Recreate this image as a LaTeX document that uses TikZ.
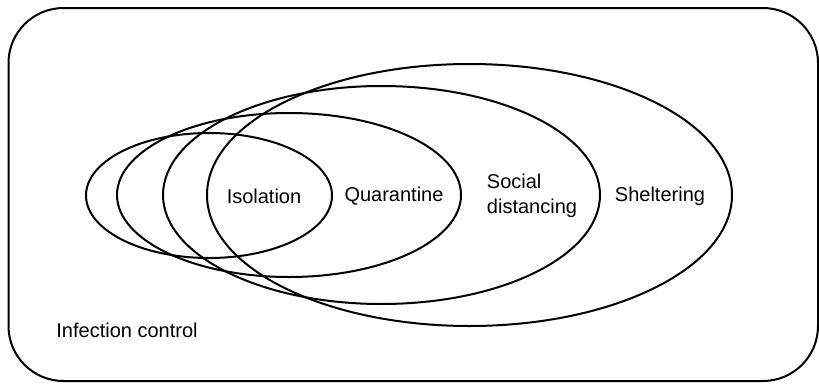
\documentclass[tikz,border=0pt]{standalone}
\usepackage{fontspec}
\setmainfont{Liberation Sans}
\begin{document}
\begin{tikzpicture}[x=1pt,y=-1pt,
  ring/.style={draw=black,line width=2pt},
  lbl/.style={font=\fontsize{20}{25}\selectfont,inner sep=0pt}]
\useasboundingbox (0,0) rectangle (819,383);
% outer frame
\draw[ring,rounded corners=55pt] (8.5,8) rectangle (818,381);
% nested ellipses
\draw[ring] (209,195.5) ellipse [x radius=123,y radius=62.5];
\draw[ring] (289,195) ellipse [x radius=172,y radius=82];
\draw[ring] (381.5,195) ellipse [x radius=218.5,y radius=109];
\draw[ring] (469.5,195) ellipse [x radius=262.5,y radius=131];
% labels
\node[lbl] (iso) at (264,196) {Isolation};
\node[lbl] (qua) at (394,196) {Quarantine};
\node[lbl,align=left] (soc) at (532,196) {Social\\distancing};
\node[lbl] (she) at (660,196) {Sheltering};
\node[lbl] (inf) at (127,330) {Infection control};
\end{tikzpicture}
\end{document}
